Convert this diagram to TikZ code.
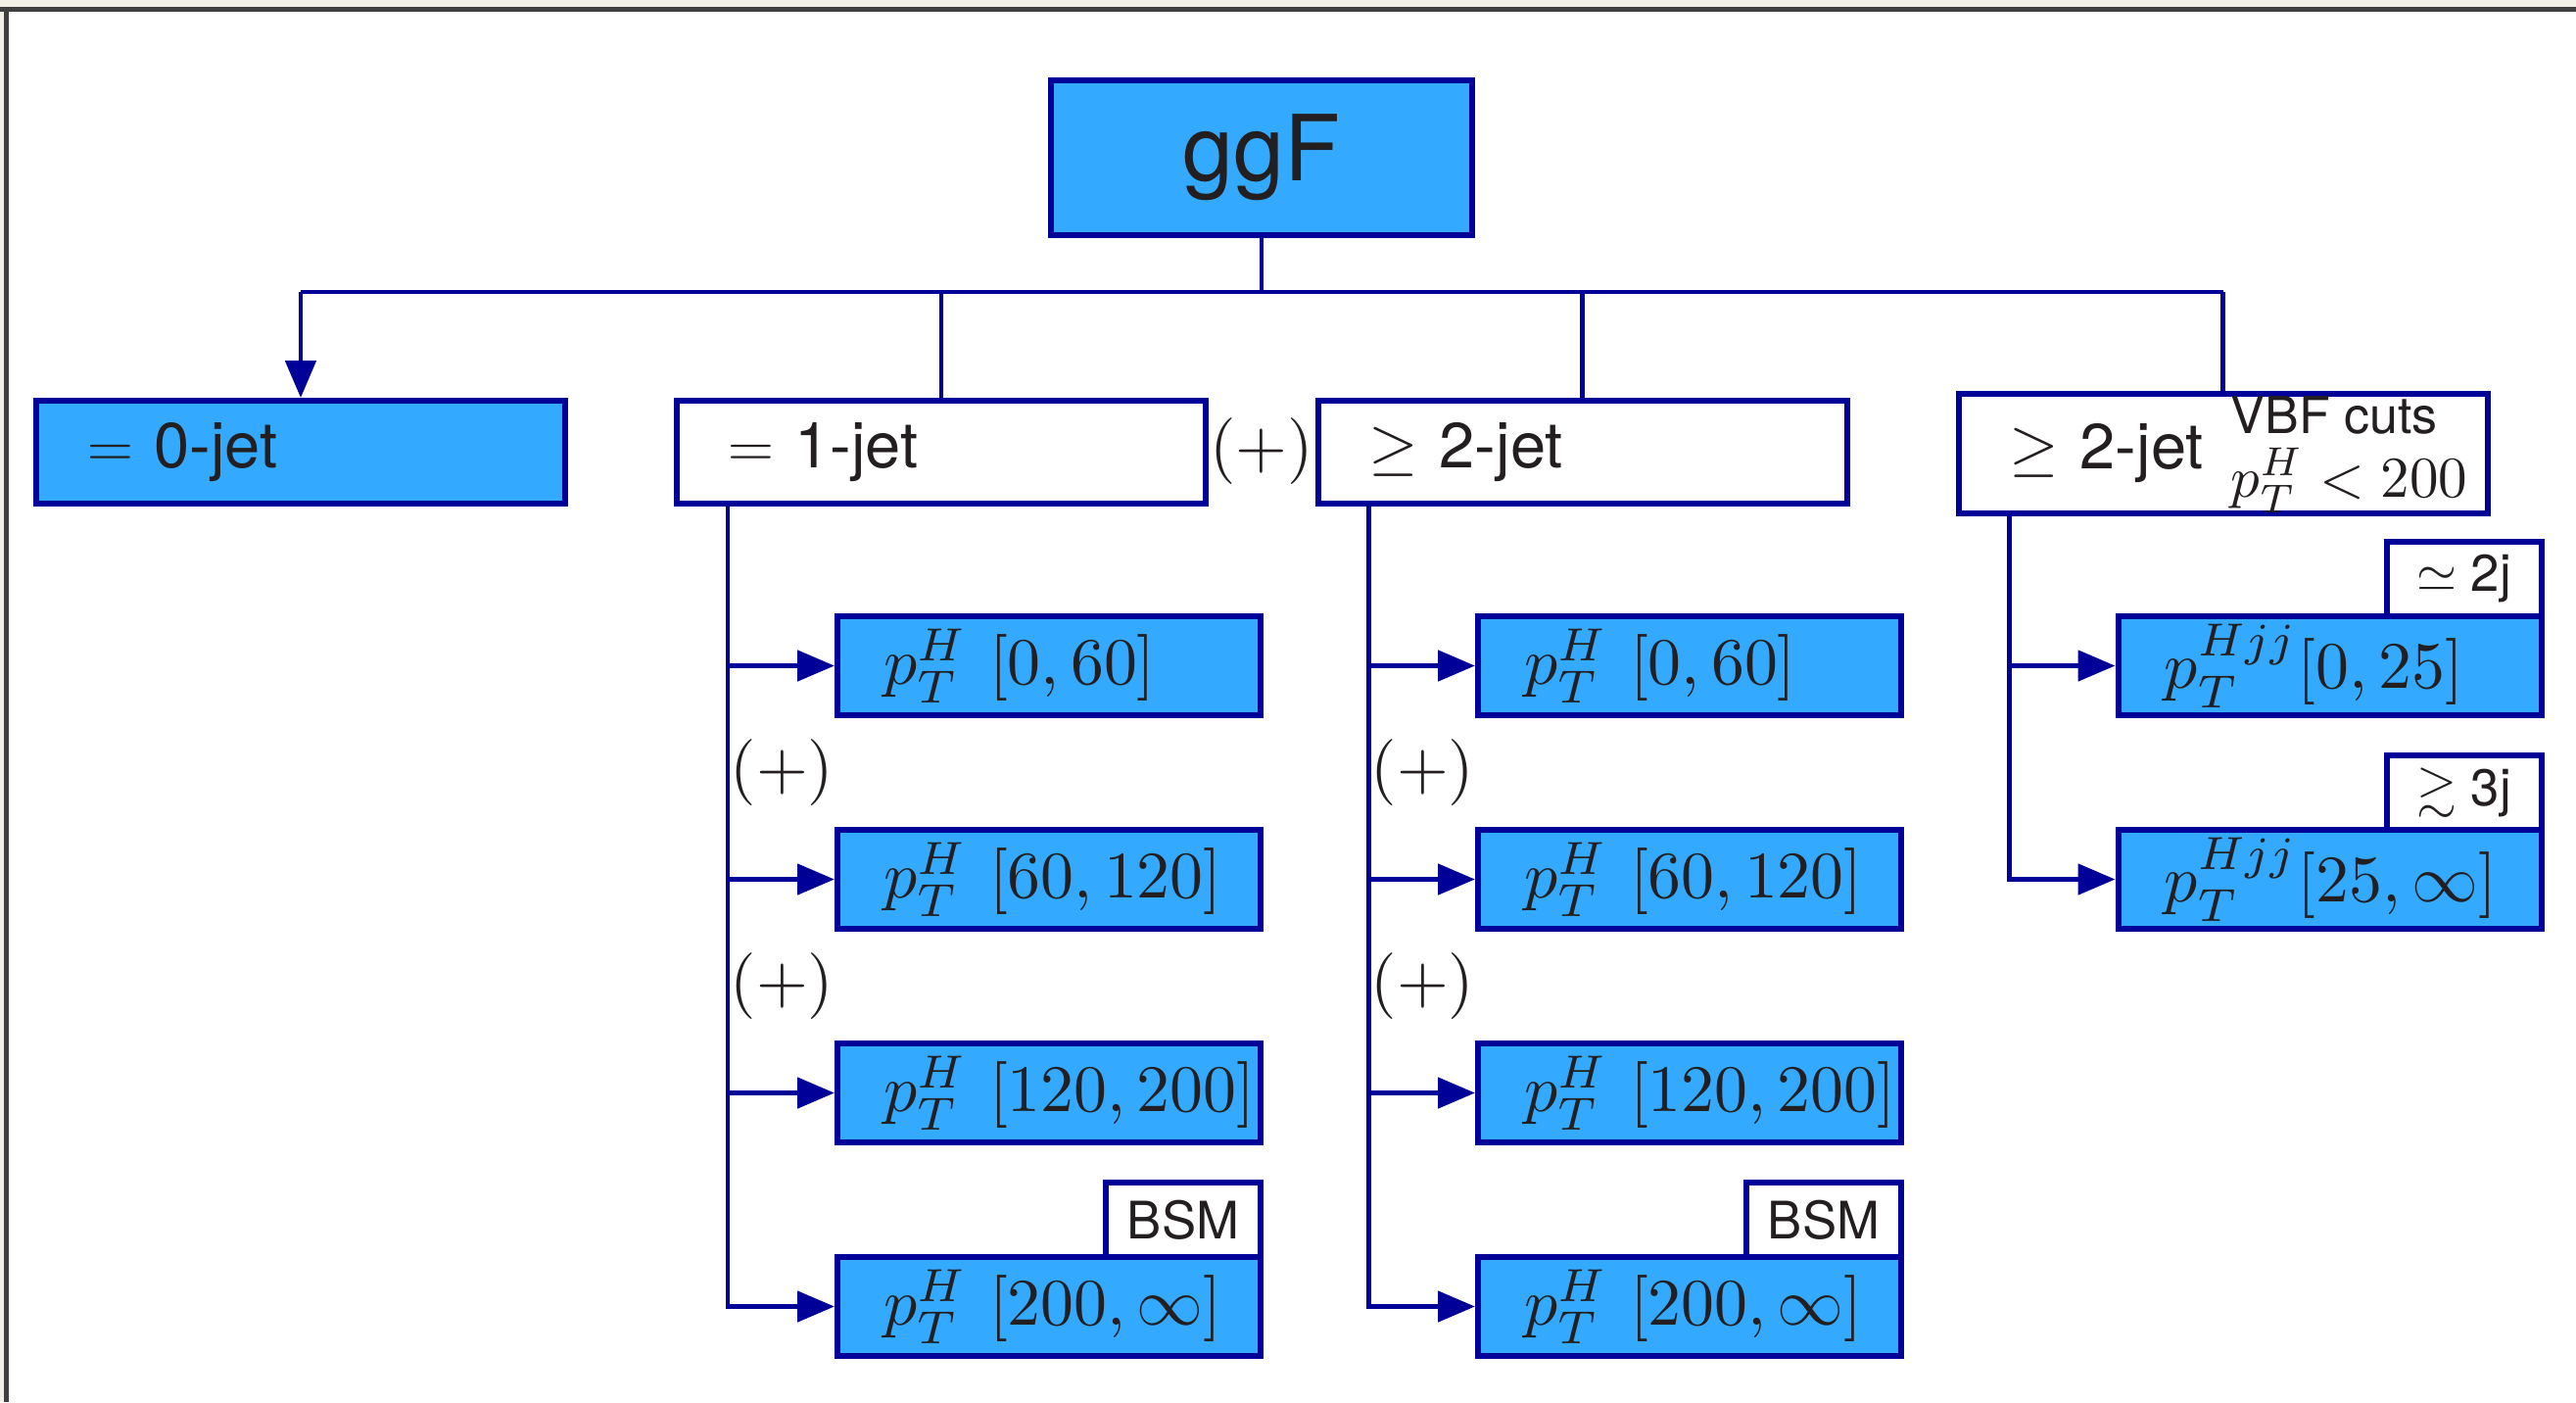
\documentclass[tikz,border=0pt]{standalone}
\usepackage{fix-cm}
\usepackage{graphicx}
\usepackage{amsmath,amssymb}
\usepackage[no-math]{fontspec}
\setmainfont{TeX Gyre Heros}
\usetikzlibrary{arrows.meta,positioning}
\newcommand{\binlabel}[1]{\scalebox{1.93}{\fontsize{10}{12}\selectfont$#1$}}
\definecolor{boxblue}{RGB}{51,170,255}
\definecolor{linkblue}{RGB}{0,0,153}
\definecolor{ink}{RGB}{35,31,32}
\definecolor{edge}{RGB}{64,64,64}
\definecolor{paper}{RGB}{243,240,233}
\begin{document}
\begin{tikzpicture}[
      every node/.style={text=ink},
      box/.style={draw=linkblue, line width=1.7pt, inner ysep=0pt},
      jetbox/.style={box, minimum height=1.05cm, text width=4.36cm, inner xsep=0.52cm, align=left, font=\fontsize{18.5}{20}\selectfont},
      binbox/.style={box, fill=boxblue, minimum height=1.01cm, text width=3.38cm, inner xsep=0.47cm, align=left},
      tagbox/.style={box, fill=white, minimum width=1.58cm, minimum height=0.76cm, inner xsep=0pt, anchor=south east, font=\fontsize{15}{17}\selectfont},
      plus/.style={inner sep=0pt},
      link/.style={draw=linkblue, line width=1.4pt},
      arr/.style={link, -{Triangle[length=0.38cm, width=0.31cm]}}]
      \useasboundingbox (0,0) rectangle (26.30,-14.31);
      \fill [paper] (0,0) rectangle (26.30,-0.07);
      \fill [paper] (0,0) rectangle (0.04,-14.31);
      \fill [edge] (0,-0.07) rectangle (26.30,-0.12);
      \fill [edge] (0.04,-0.07) rectangle (0.09,-14.31);

      \node [box, fill=boxblue, minimum width=4.30cm, minimum height=1.58cm, font=\fontsize{26.5}{30}\selectfont] (ggF) at (12.88,-1.61) {ggF};

      \node [jetbox, fill=boxblue] (j0) at (3.07,-4.615) {$=$ 0-jet};
      \node [jetbox] (j1) at (9.61,-4.615) {$=$ 1-jet};
      \node [jetbox] (j2) at (16.155,-4.615) {$\geq$ 2-jet};
      \node [jetbox, minimum height=1.22cm] (vbf) at (22.695,-4.63) {$\geq$ 2-jet};
      \node [anchor=west, align=left, inner sep=0pt, font=\fontsize{14.8}{18.5}\selectfont] (cuts) at (22.77,-4.64) {VBF cuts\\\scalebox{1.68}{\fontsize{10}{12}\selectfont$p_T^H < 200$}};
      \node [plus] (or12) at (12.88,-4.61) {\binlabel{(+)}};

      \coordinate (bus) at (0,-2.98);
      \draw [link] (ggF.south) -- (ggF.south |- bus);
      \draw [link] (j0.north |- bus) -- (vbf.north |- bus);
      \draw [arr] (j0.north |- bus) -- (j0.north);
      \draw [link] (j1.north |- bus) -- (j1.north);
      \draw [link] (j2.north |- bus) -- (j2.north);
      \draw [link] (vbf.north |- bus) -- (vbf.north);

      \node [binbox] (b11) at (10.71,-6.795) {\binlabel{p_T^H\ [0, 60]}};
      \node [binbox] (b12) at (10.71,-8.975) {\binlabel{p_T^H\ [60, 120]}};
      \node [binbox] (b13) at (10.71,-11.155) {\binlabel{p_T^H\ [120, 200]}};
      \node [binbox] (b14) at (10.71,-13.335) {\binlabel{p_T^H\ [200, \infty]}};
      \node [tagbox] (t14) at ([yshift=-1.7pt]b14.north east) {BSM};

      \node [binbox] (b21) at (17.25,-6.795) {\binlabel{p_T^H\ [0, 60]}};
      \node [binbox] (b22) at (17.25,-8.975) {\binlabel{p_T^H\ [60, 120]}};
      \node [binbox] (b23) at (17.25,-11.155) {\binlabel{p_T^H\ [120, 200]}};
      \node [binbox] (b24) at (17.25,-13.335) {\binlabel{p_T^H\ [200, \infty]}};
      \node [tagbox] (t24) at ([yshift=-1.7pt]b24.north east) {BSM};

      \node [binbox] (b31) at (23.785,-6.795) {\binlabel{p_T^{Hjj}[0, 25]}};
      \node [binbox] (b32) at (23.785,-8.975) {\binlabel{p_T^{Hjj}[25, \infty]}};
      \node [tagbox] (t31) at ([yshift=-1.7pt]b31.north east) {$\simeq$ 2j};
      \node [tagbox] (t32) at ([yshift=-1.7pt]b32.north east) {$\gtrsim$ 3j};

      \coordinate (c1) at ([xshift=0.55cm]j1.south west);
      \coordinate (c2) at ([xshift=0.55cm]j2.south west);
      \coordinate (c3) at ([xshift=0.55cm]vbf.south west);
      \draw [arr] (c1) |- (b14);
      \draw [arr] (c2) |- (b24);
      \draw [arr] (c3) |- (b32);
      \foreach \b in {b11,b12,b13} \draw [arr] (c1 |- \b) -- (\b);
      \foreach \b in {b21,b22,b23} \draw [arr] (c2 |- \b) -- (\b);
      \draw [arr] (c3 |- b31) -- (b31);

      \node [plus, anchor=west] (or1a) at (7.45,-7.885) {\binlabel{(+)}};
      \node [plus, anchor=west] (or1b) at (7.45,-10.065) {\binlabel{(+)}};
      \node [plus, anchor=west] (or2a) at (13.99,-7.885) {\binlabel{(+)}};
      \node [plus, anchor=west] (or2b) at (13.99,-10.065) {\binlabel{(+)}};
    \end{tikzpicture}
\end{document}
